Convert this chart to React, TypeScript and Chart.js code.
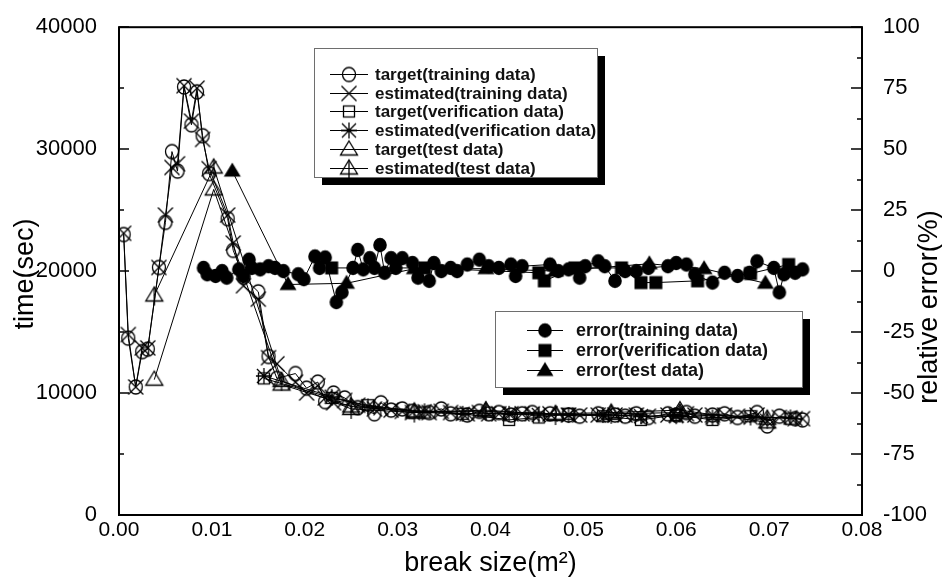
import React, { useEffect, useRef } from "react";
import { Chart, registerables } from "chart.js";

Chart.register(...registerables);

// ---------- tick labels ----------
const xTickValues = [0, 0.01, 0.02, 0.03, 0.04, 0.05, 0.06, 0.07, 0.08];
const xTickLabels = ["0.00", "0.01", "0.02", "0.03", "0.04", "0.05", "0.06", "0.07", "0.08"];
const leftTickValues = [0, 10000, 20000, 30000, 40000];
const leftTickLabels = ["0", "10000", "20000", "30000", "40000"];
const rightTickValues = [-100, -75, -50, -25, 0, 25, 50, 75, 100];
const rightTickLabels = ["-100", "-75", "-50", "-25", "0", "25", "50", "75", "100"];

// ---------- training data ----------
const trainX = [
  0.0005, 0.001, 0.0018, 0.0025, 0.0031, 0.0043, 0.005, 0.0057, 0.0063, 0.007,
  0.0078, 0.0084, 0.009, 0.0097, 0.0117, 0.0123, 0.0134, 0.015, 0.0161, 0.017,
  0.019, 0.0202, 0.0214, 0.0222, 0.0231, 0.0243, 0.0257, 0.0275, 0.0282, 0.0293,
  0.0305, 0.0316, 0.0334, 0.0347, 0.0357, 0.0375, 0.0388, 0.0398, 0.0409, 0.0422,
  0.0434, 0.0445, 0.0464, 0.0484, 0.0496, 0.0516, 0.0534, 0.0545, 0.0557, 0.057,
  0.0591, 0.06, 0.0611, 0.062, 0.0639, 0.0652, 0.0666, 0.0687, 0.0698, 0.0711,
  0.0728, 0.0736,
];
const trainTarget = [
  23000, 14500, 10500, 13400, 13600, 20300, 24000, 29800, 28200, 35100,
  32000, 34700, 31100, 28000, 24300, 21700, 19500, 18300, 13000, 11200,
  11600, 10400, 10900, 9300, 10000, 9600, 8800, 8300, 9200, 8600,
  8700, 8500, 8400, 8700, 8300, 8200, 8500, 8300, 8400, 8200,
  8300, 8400, 8300, 8200, 8100, 8300, 8200, 8100, 8300, 8000,
  8300, 8200, 8400, 8100, 8200, 8300, 8000, 8400, 7300, 8100,
  7900, 7800,
];
const trainEstimated = [
  23100, 14800, 10500, 13700, 13700, 20300, 24600, 28500, 28800, 35200,
  32300, 35000, 30800, 28400, 24600, 22300, 18800, 17700, 12900, 12400,
  10900, 10000, 10600, 9600, 9200, 9400, 9000, 8700, 8800, 8600,
  8500, 8400, 8400, 8500, 8400, 8300, 8400, 8300, 8300, 8300,
  8300, 8300, 8300, 8200, 8200, 8200, 8200, 8200, 8200, 8100,
  8200, 8200, 8300, 8200, 8200, 8200, 8100, 8200, 7700, 8000,
  7900, 7900,
];

// ---------- verification data ----------
const verX = [0.0156, 0.0229, 0.0268, 0.0329, 0.037, 0.042, 0.0452, 0.0484, 0.0521, 0.0562, 0.06, 0.0639, 0.068, 0.0723];
const verTarget = [11200, 9600, 9000, 8400, 8300, 7800, 8000, 8300, 8100, 7800, 8200, 7800, 8100, 7900];
const verEstimated = [11400, 9700, 8900, 8500, 8300, 8300, 8200, 8200, 8200, 8100, 8100, 8000, 8000, 8000];

// ---------- test data ----------
const testX = [0.0038, 0.0102, 0.0175, 0.025, 0.0318, 0.0395, 0.047, 0.053, 0.0604, 0.0698];
const testTarget = [11100, 26700, 10700, 8900, 8500, 8500, 8300, 8400, 8600, 7600];
const testEstimated = [18000, 28500, 11000, 8700, 8400, 8600, 8200, 8300, 8400, 7900];

// ---------- relative error (%) ----------
const errTrainX = [
  0.0091, 0.0095, 0.0104, 0.0111, 0.0116, 0.0129, 0.0134, 0.014, 0.0143, 0.0152,
  0.0161, 0.0168, 0.0177, 0.0193, 0.0199, 0.0211, 0.0216, 0.0222, 0.0234, 0.024,
  0.0252, 0.0257, 0.0263, 0.027, 0.0275, 0.0281, 0.0286, 0.0293, 0.0298, 0.0305,
  0.0316, 0.0322, 0.0334, 0.0339, 0.0347, 0.0357, 0.0364, 0.0375, 0.0388, 0.0398,
  0.0409, 0.0422, 0.0427, 0.0434, 0.0464, 0.0473, 0.0484, 0.0496, 0.0502, 0.0516,
  0.0523, 0.0534, 0.0545, 0.0557, 0.057, 0.0591, 0.06, 0.0611, 0.062, 0.0639,
  0.0652, 0.0666, 0.0679, 0.0687, 0.0705, 0.0711, 0.0716, 0.0728, 0.0736,
];
const errTrain = [
  1.3, -1.3, -2, 0, -2.7, 0.7, -2, 4.7, 1.3, 0.7,
  2, 1.3, 0, -1.3, -3.3, 6, 1.3, 5.6, -12.7, -8.7,
  1.3, 8.7, 0.7, 5.3, 1.3, 10.7, -0.7, 5.3, 1.3, 5.3,
  3.3, -2.7, -4, 3.3, 0, 1.3, 0, 2.7, 4.7, 2,
  1.3, 2.7, -2, 2, 2.7, 0, 0.7, -2.7, 2, 4,
  2, -4, 0, 0, 1.3, 2, 3.3, 2.7, -1.3, -4.7,
  -0.7, -2, -0.7, 4, 1.3, -8.7, -1.3, -0.7, 0.7,
];
const errVerX = [0.0229, 0.0329, 0.0452, 0.0458, 0.0491, 0.0541, 0.0562, 0.0578, 0.0623, 0.068, 0.0721];
const errVer = [1.3, 1.3, -0.7, -4, 1.3, 1.3, -4.7, -4.7, -4, -1, 2.7];
const errTestX = [0.0122, 0.0182, 0.0245, 0.0318, 0.0395, 0.047, 0.0571, 0.063, 0.0696];
const errTest = [41, -5.5, -5, 1, 1, 0, 3, 1, -5];

// ---------- legend texts ----------
const legend1Labels = [
  "target(training data)",
  "estimated(training data)",
  "target(verification data)",
  "estimated(verification data)",
  "target(test data)",
  "estimated(test data)",
];
const legend2Labels = ["error(training data)", "error(verification data)", "error(test data)"];

const FONT = "'Liberation Sans', Arial, Helvetica, sans-serif";

type MarkerKind =
  | "circleOpen" | "xMark" | "squareOpen" | "asterisk" | "triOpen" | "triCross"
  | "circleFilled" | "squareFilled" | "triFilled";

function makeMarker(kind: MarkerKind): HTMLCanvasElement {
  const c = document.createElement("canvas");
  c.width = 22;
  c.height = 22;
  const g = c.getContext("2d")!;
  g.translate(11, 11);
  g.strokeStyle = "#000";
  g.fillStyle = "#000";
  g.lineWidth = 1.3;
  const tri = () => {
    g.beginPath();
    g.moveTo(0, -8.5);
    g.lineTo(8.5, 5.5);
    g.lineTo(-8.5, 5.5);
    g.closePath();
  };
  switch (kind) {
    case "circleOpen":
      g.beginPath();
      g.ellipse(0, 0, 6.5, 7, 0, 0, Math.PI * 2);
      g.stroke();
      break;
    case "circleFilled":
      g.beginPath();
      g.ellipse(0, 0, 6.8, 7.2, 0, 0, Math.PI * 2);
      g.fill();
      break;
    case "xMark":
      g.beginPath();
      g.moveTo(-7.5, -7.5);
      g.lineTo(7.5, 7.5);
      g.moveTo(7.5, -7.5);
      g.lineTo(-7.5, 7.5);
      g.stroke();
      break;
    case "squareOpen":
      g.strokeRect(-5.5, -5.5, 11, 11);
      break;
    case "squareFilled":
      g.fillRect(-6.5, -6.5, 13, 13);
      break;
    case "asterisk":
      g.beginPath();
      g.moveTo(-7, -7);
      g.lineTo(7, 7);
      g.moveTo(7, -7);
      g.lineTo(-7, 7);
      g.moveTo(0, -8);
      g.lineTo(0, 8);
      g.moveTo(-8, 0);
      g.lineTo(8, 0);
      g.stroke();
      break;
    case "triOpen":
      tri();
      g.stroke();
      break;
    case "triFilled":
      tri();
      g.fill();
      break;
    case "triCross":
      tri();
      g.stroke();
      g.beginPath();
      g.moveTo(0, -8.5);
      g.lineTo(0, 10);
      g.stroke();
      break;
  }
  return c;
}

const pts = (xs: number[], ys: number[]) => xs.map((x, i) => ({ x, y: ys[i] }));

export default function App() {
  const ref = useRef<HTMLCanvasElement | null>(null);

  useEffect(() => {
    const canvas = ref.current;
    if (!canvas) return;

    const m: Record<MarkerKind, HTMLCanvasElement> = {
      circleOpen: makeMarker("circleOpen"),
      xMark: makeMarker("xMark"),
      squareOpen: makeMarker("squareOpen"),
      asterisk: makeMarker("asterisk"),
      triOpen: makeMarker("triOpen"),
      triCross: makeMarker("triCross"),
      circleFilled: makeMarker("circleFilled"),
      squareFilled: makeMarker("squareFilled"),
      triFilled: makeMarker("triFilled"),
    };

    const ds = (label: string, data: { x: number; y: number }[], marker: HTMLCanvasElement, axis: string) => ({
      label,
      data,
      yAxisID: axis,
      showLine: true,
      borderColor: "#000",
      borderWidth: 1,
      backgroundColor: "rgba(0,0,0,0)",
      pointStyle: marker,
      pointRadius: 7,
      pointHoverRadius: 7,
      tension: 0,
      fill: false,
    });

    const drawLegend = (
      ctx: CanvasRenderingContext2D,
      bx: number, by: number, bw: number, bh: number,
      rowY0: number, rowGap: number,
      lx0: number, lx1: number, tx: number, fontSize: number,
      labels: string[], markers: HTMLCanvasElement[]
    ) => {
      ctx.fillStyle = "#000";
      ctx.fillRect(bx + 8, by + 8, bw, bh);
      ctx.fillStyle = "#fff";
      ctx.fillRect(bx, by, bw, bh);
      ctx.strokeStyle = "#6e6e6e";
      ctx.lineWidth = 1;
      ctx.strokeRect(bx + 0.5, by + 0.5, bw, bh);
      ctx.font = `bold ${fontSize}px ${FONT}`;
      ctx.textBaseline = "middle";
      ctx.textAlign = "left";
      labels.forEach((lab, i) => {
        const cy = Math.round(rowY0 + i * rowGap);
        ctx.strokeStyle = "#000";
        ctx.beginPath();
        ctx.moveTo(lx0, cy + 0.5);
        ctx.lineTo(lx1, cy + 0.5);
        ctx.stroke();
        const mk = markers[i];
        ctx.drawImage(mk, Math.round((lx0 + lx1) / 2 - mk.width / 2), cy - mk.height / 2 + 0.5);
        ctx.fillStyle = "#111";
        ctx.fillText(lab, tx, cy + 1);
      });
    };

    const framePlugin = {
      id: "frameAndLegends",
      afterDatasetsDraw(chart: any) {
        const ctx: CanvasRenderingContext2D = chart.ctx;
        const { left, right, top, bottom } = chart.chartArea;
        const yL = chart.scales.y;
        const yR = chart.scales.y2;
        ctx.save();
        // inner ticks, left axis
        ctx.strokeStyle = "#000";
        ctx.lineWidth = 1.5;
        for (let v = 0; v <= 40000; v += 5000) {
          const py = Math.round(yL.getPixelForValue(v));
          const len = v % 10000 === 0 ? 10 : 5;
          ctx.beginPath();
          ctx.moveTo(left, py);
          ctx.lineTo(left + len, py);
          ctx.stroke();
        }
        for (let v = -100; v <= 100; v += 12.5) {
          const py = Math.round(yR.getPixelForValue(v));
          const len = v % 25 === 0 ? 11 : 5;
          ctx.beginPath();
          ctx.moveTo(right, py);
          ctx.lineTo(right - len, py);
          ctx.stroke();
        }
        // frame
        ctx.lineWidth = 2;
        ctx.strokeRect(left, top, right - left, bottom - top);

        // axis titles
        ctx.fillStyle = "#000";
        ctx.font = `27px ${FONT}`;
        ctx.textAlign = "center";
        ctx.textBaseline = "middle";
        ctx.fillText("break size(m²)", (left + right) / 2, 564);
        ctx.save();
        ctx.translate(26, 274);
        ctx.rotate(-Math.PI / 2);
        ctx.fillText("time(sec)", 0, 0);
        ctx.restore();
        ctx.save();
        ctx.translate(930, 307);
        ctx.rotate(-Math.PI / 2);
        ctx.fillText("relative error(%)", 0, 0);
        ctx.restore();

        // legends
        drawLegend(ctx, 314, 48, 283, 129, 74, 18.7, 330, 368, 375, 17, legend1Labels,
          [m.circleOpen, m.xMark, m.squareOpen, m.asterisk, m.triOpen, m.triCross]);
        drawLegend(ctx, 495, 311, 307, 76, 330, 20, 527, 563, 576, 18, legend2Labels,
          [m.circleFilled, m.squareFilled, m.triFilled]);
        ctx.restore();
      },
    };

    const tickFont = { family: FONT, size: 22 };

    const chart = new Chart(canvas, {
      type: "line",
      data: {
        datasets: [
          ds("error(training data)", pts(errTrainX, errTrain), m.circleFilled, "y2"),
          ds("error(verification data)", pts(errVerX, errVer), m.squareFilled, "y2"),
          ds("error(test data)", pts(errTestX, errTest), m.triFilled, "y2"),
          ds("target(training data)", pts(trainX, trainTarget), m.circleOpen, "y"),
          ds("estimated(training data)", pts(trainX, trainEstimated), m.xMark, "y"),
          ds("target(verification data)", pts(verX, verTarget), m.squareOpen, "y"),
          ds("estimated(verification data)", pts(verX, verEstimated), m.asterisk, "y"),
          ds("target(test data)", pts(testX, testTarget), m.triOpen, "y"),
          ds("estimated(test data)", pts(testX, testEstimated), m.triCross, "y"),
        ] as any,
      },
      options: {
        animation: false,
        responsive: false,
        maintainAspectRatio: false,
        layout: { padding: { top: 15, left: 0, right: 0, bottom: 0 } },
        plugins: {
          legend: { display: false },
          tooltip: { enabled: false },
        },
        scales: {
          x: {
            type: "linear",
            min: 0,
            max: 0.08,
            grid: { display: false },
            border: { display: false },
            ticks: {
              color: "#000",
              font: { family: FONT, size: 21 },
              padding: -5,
              maxRotation: 0,
              autoSkip: false,
              callback: (v: any) => {
                const i = xTickValues.findIndex((t) => Math.abs(t - v) < 1e-9);
                return i >= 0 ? xTickLabels[i] : "";
              },
            },
            afterBuildTicks: (s: any) => {
              s.ticks = xTickValues.map((v) => ({ value: v }));
            },
            afterFit: (s: any) => {
              s.height = 64;
            },
          },
          y: {
            type: "linear",
            position: "left",
            min: 0,
            max: 40000,
            grid: { display: false },
            border: { display: false },
            ticks: {
              color: "#000",
              font: tickFont,
              padding: 14,
              callback: (v: any) => {
                const i = leftTickValues.indexOf(Number(v));
                return i >= 0 ? leftTickLabels[i] : "";
              },
            },
            afterBuildTicks: (s: any) => {
              s.ticks = leftTickValues.map((v) => ({ value: v }));
            },
            afterFit: (s: any) => {
              s.width = 119;
            },
          },
          y2: {
            type: "linear",
            position: "right",
            min: -100,
            max: 100,
            grid: { display: false },
            border: { display: false },
            ticks: {
              color: "#000",
              font: tickFont,
              padding: 13,
              callback: (v: any) => {
                const i = rightTickValues.indexOf(Number(v));
                return i >= 0 ? rightTickLabels[i] : "";
              },
            },
            afterBuildTicks: (s: any) => {
              s.ticks = rightTickValues.map((v) => ({ value: v }));
            },
            afterFit: (s: any) => {
              s.width = 80;
            },
          },
        },
      } as any,
      plugins: [framePlugin],
    });

    return () => chart.destroy();
  }, []);

  return (
    <div style={{ position: "absolute", left: 0, top: 0, width: 942, height: 579, background: "#fff" }}>
      <canvas ref={ref} width={942} height={579} style={{ display: "block" }} />
    </div>
  );
}
